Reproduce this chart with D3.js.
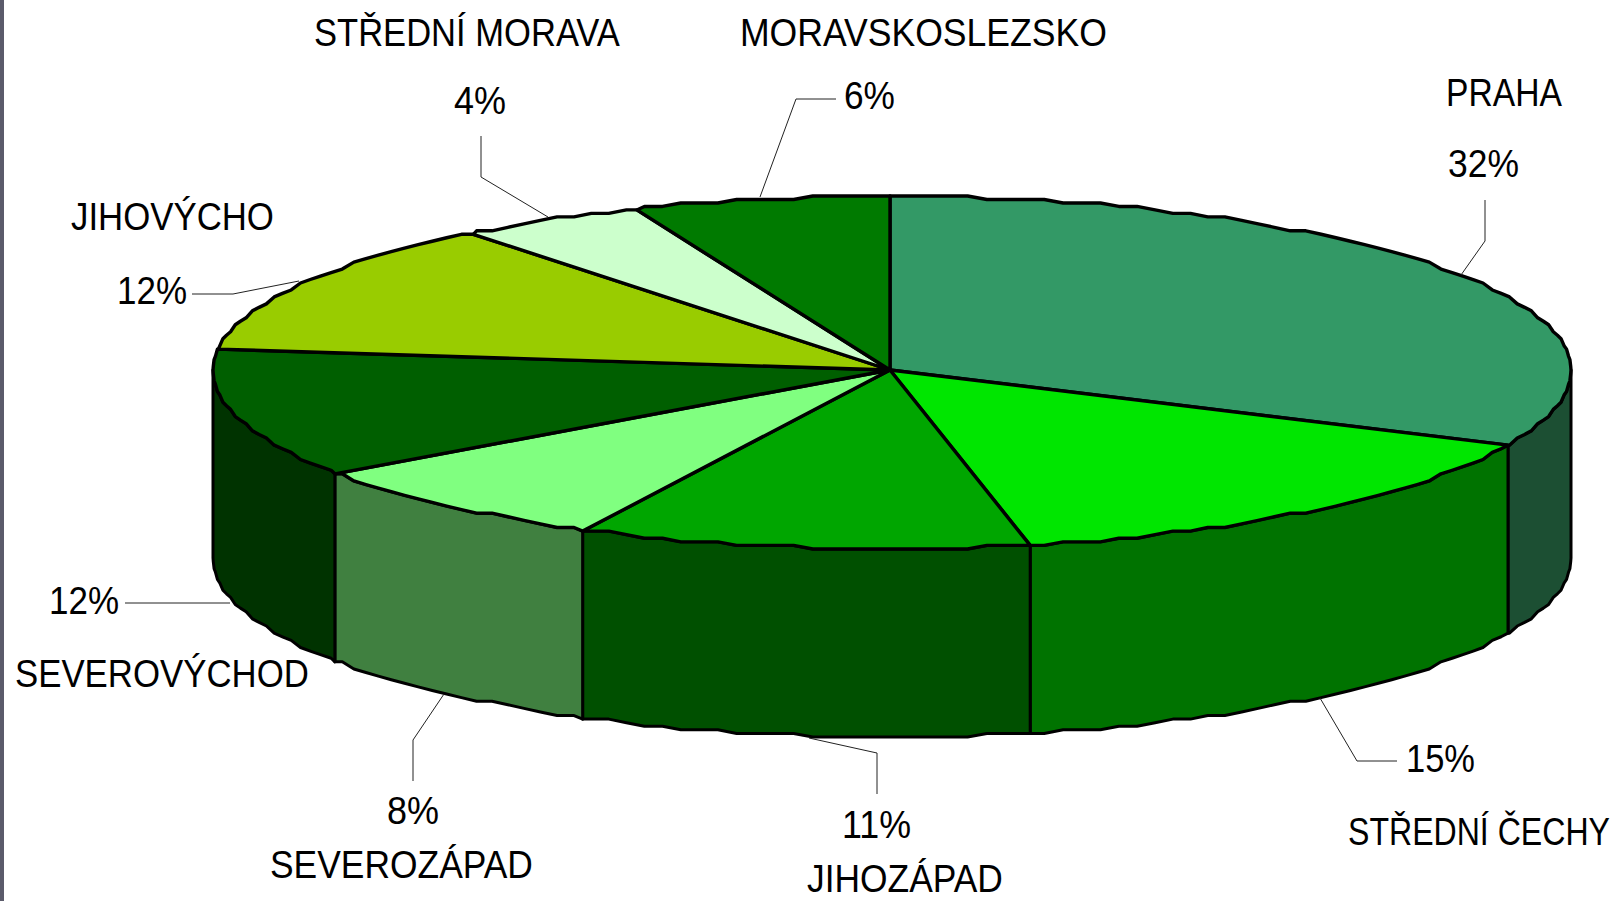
<!DOCTYPE html>
<html lang="cs">
<head>
<meta charset="utf-8">
<title>Podíl regionů</title>
<script src="https://cdn.jsdelivr.net/npm/d3@7"></script>
<style>
html,body{margin:0;padding:0;background:#fff;overflow:hidden}
svg{display:block}
text{font-family:"Liberation Sans",Arial,sans-serif;font-size:38px;fill:#000}
</style>
</head>
<body>
<svg id="chart" width="1618" height="901"></svg>
<script>
// Data (share of the pie, in percent)
const categories = ["PRAHA","STŘEDNÍ ČECHY","JIHOZÁPAD","SEVEROZÁPAD","SEVEROVÝCHOD","JIHOVÝCHO","STŘEDNÍ MORAVA","MORAVSKOSLEZSKO"];
const shares = [31.9,14.8,10.8,7.8,11.7,12.45,4.45,6.1];
const topColors = ["#339966","#00E600","#00A600","#80FF80","#005F00","#99CC00","#CCFFCC","#007A00"];
const sideColors = ["#1C4F33","#007300","#005000","#408040","#003300","#4D6600","#668066","#003D00"];

// Annotation layout: [name x, name baseline, name width, value x, value baseline, value width]
const labelBoxes = [
  [1446,106,116,1448,177,71],
  [1348,845,262,1406,772,69],
  [807,892,196,842,838,69],
  [270,878,263,387,824,52],
  [15,687,294,49,614,70],
  [71,230,203,117,304,70],
  [314,46,306,454,114,52],
  [740,46,367,844,109,51]
];
const leaders = [
  [[1485,200],[1485,241],[1461,275]],
  [[1320,698],[1357,761],[1397,761]],
  [[877,794],[877,753],[809,738]],
  [[444,694],[413,740],[413,781]],
  [[125,603],[230,603]],
  [[192,294],[233,294],[299,281]],
  [[481,136],[481,177],[548,217]],
  [[760,197],[796,99],[836,99]]
];

const W = 1618, H = 901;
const depth = 188;
const sx = d3.scaleLinear().domain([-1,0,1]).range([213,890,1571]);
const sy = d3.scaleLinear().domain([-1,0,1]).range([196,370,549]);

const svg = d3.select("#chart");
svg.append("rect").attr("width",W).attr("height",H).attr("fill","#fff");
svg.append("rect").attr("width",4).attr("height",H).attr("fill","#5B5B6B");

const slices = d3.pie().sort(null).value(d=>d)(shares);
const line = d3.line();
const step = 2 * Math.PI / 220;
const q = 50;                        // the source outline is a coarse, stepped polyline

function point(a){
  const x = Math.sin(a), y = -Math.cos(a);
  return [sx(x), sy(Math.round(y*q)/q)];
}
function arcPoints(a0,a1){
  const pts = [];
  pts.push(point(a0));
  for(let k=Math.ceil(a0/step); k*step<a1; k++) pts.push(point(k*step));
  pts.push(point(a1));
  return pts;
}

// Visible rim: only the front half of the disc
const gSide = svg.append("g");
slices.forEach((s,i)=>{
  const a0 = Math.max(s.startAngle, Math.PI/2), a1 = Math.min(s.endAngle, 3*Math.PI/2);
  if(a1 <= a0) return;
  const upper = arcPoints(a0,a1);
  const lower = upper.map(p=>[p[0],p[1]+depth]).reverse();
  gSide.append("path").attr("d",line(upper.concat(lower))+"Z")
    .attr("fill",sideColors[i]).attr("stroke","#000").attr("stroke-width",3).attr("stroke-linejoin","round");
});

// Top face
const gTop = svg.append("g");
slices.forEach((s,i)=>{
  const pts = [[sx(0),sy(0)]].concat(arcPoints(s.startAngle,s.endAngle));
  gTop.append("path").attr("d",line(pts)+"Z")
    .attr("fill",topColors[i]).attr("stroke","#000").attr("stroke-width",3.4).attr("stroke-linejoin","round");
});

// Leader lines
svg.append("g").selectAll("path").data(leaders).join("path")
  .attr("d",d=>line(d)).attr("fill","none").attr("stroke","#222").attr("stroke-width",1);

// Labels: condensed horizontally to the width seen in the picture
const gText = svg.append("g");
function label(str,x,y,w){
  const t = gText.append("text").text(str);
  const k = w / t.node().getComputedTextLength();
  t.attr("transform",`translate(${x},${y}) scale(${k},1)`);
}
categories.forEach((c,i)=>{
  const b = labelBoxes[i];
  label(c,b[0],b[1],b[2]);
  label(Math.round(shares[i])+"%",b[3],b[4],b[5]);
});
</script>
</body>
</html>
